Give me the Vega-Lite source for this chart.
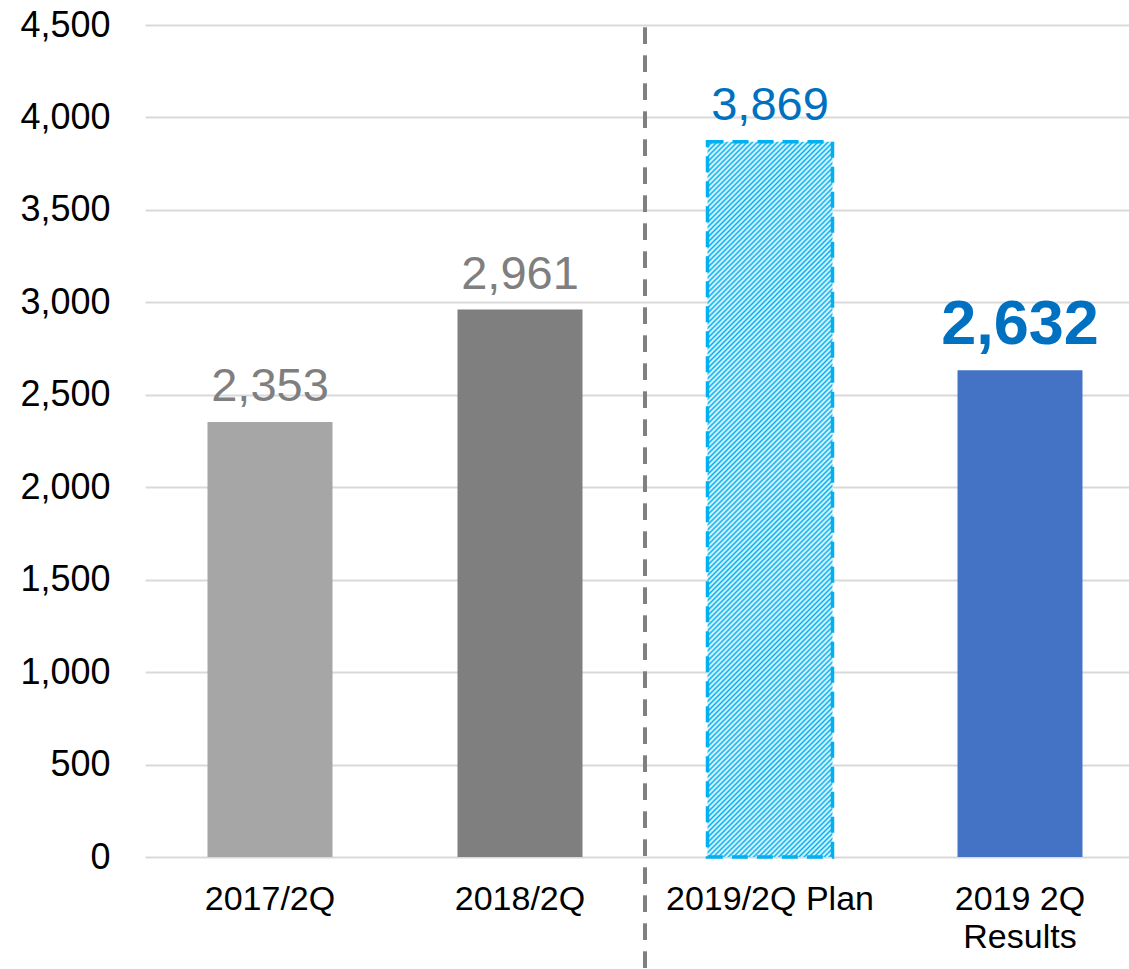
{
 "$schema": "https://vega.github.io/schema/vega-lite/v6.json",
 "width": 984,
 "height": 832,
 "autosize": {"type": "none"},
 "padding": {"left": 145, "top": 25, "right": 0, "bottom": 112},
 "background": "white",
 "config": {"view": {"stroke": null}, "font": "Liberation Sans"},
 "data": {"values": [
  {"period": "2017/2Q", "value": 2353},
  {"period": "2018/2Q", "value": 2961},
  {"period": "2019/2Q Plan", "value": 3869},
  {"period": "2019 2Q Results", "value": 2632}
 ]},
 "encoding": {
  "x": {"field": "period", "type": "nominal", "sort": null,
   "scale": {"domain": ["2017/2Q", "2018/2Q", "2019/2Q Plan", "2019 2Q Results"], "range": [0, 1000], "paddingInner": 0.5, "paddingOuter": 0.25},
   "axis": {"title": null, "labelAngle": 0, "labelFontSize": 34, "labelColor": "#000000", "labelFont": "Liberation Sans", "ticks": false, "tickSize": 0, "domain": false, "grid": false, "labelPadding": 25, "labelBaseline": "top", "labelLineHeight": 38, "labelLimit": 500,
    "labelExpr": "datum.value == '2019 2Q Results' ? ['2019 2Q', 'Results'] : datum.value"}},
  "y": {"field": "value", "type": "quantitative",
   "scale": {"domain": [0, 4500]},
   "axis": {"title": null, "values": [0, 500, 1000, 1500, 2000, 2500, 3000, 3500, 4000, 4500], "format": ",", "labelExpr": "format(datum.value, ',')", "labelFontSize": 36, "labelColor": "#000000", "labelFont": "Liberation Sans", "ticks": false, "tickSize": 0, "domain": false, "labelPadding": 35, "grid": true, "gridColor": "#D9D9D9", "gridWidth": 2}}
 },
 "layer": [
  {
   "transform": [{"filter": "datum.period != '2019/2Q Plan'"}],
   "mark": {"type": "bar"},
   "encoding": {"color": {"field": "period", "type": "nominal", "scale": {"domain": ["2017/2Q", "2018/2Q", "2019 2Q Results"], "range": ["#A6A6A6", "#7F7F7F", "#4472C4"]}, "legend": null}}
  },
  {
   "transform": [{"filter": "datum.period == '2019/2Q Plan'"}],
   "mark": {"type": "bar", "stroke": "#00B0F0", "strokeWidth": 3.5, "strokeDash": [16, 9],
    "fill": {"gradient": "linear", "x1": 0, "y1": 0, "x2": 0.1994, "y2": 1.1401, "stops": [
{"offset":0,"color":"#00b0f0"},{"offset":0.003,"color":"#fff"},{"offset":0.006,"color":"#00b0f0"},{"offset":0.009,"color":"#fff"},{"offset":0.012,"color":"#00b0f0"},{"offset":0.015,"color":"#fff"},{"offset":0.018,"color":"#00b0f0"},{"offset":0.021,"color":"#fff"},{"offset":0.024,"color":"#00b0f0"},{"offset":0.027,"color":"#fff"},
{"offset":0.03,"color":"#00b0f0"},{"offset":0.033,"color":"#fff"},{"offset":0.036,"color":"#00b0f0"},{"offset":0.039,"color":"#fff"},{"offset":0.042,"color":"#00b0f0"},{"offset":0.045,"color":"#fff"},{"offset":0.048,"color":"#00b0f0"},{"offset":0.051,"color":"#fff"},{"offset":0.054,"color":"#00b0f0"},{"offset":0.057,"color":"#fff"},
{"offset":0.06,"color":"#00b0f0"},{"offset":0.063,"color":"#fff"},{"offset":0.066,"color":"#00b0f0"},{"offset":0.069,"color":"#fff"},{"offset":0.072,"color":"#00b0f0"},{"offset":0.075,"color":"#fff"},{"offset":0.078,"color":"#00b0f0"},{"offset":0.081,"color":"#fff"},{"offset":0.084,"color":"#00b0f0"},{"offset":0.087,"color":"#fff"},
{"offset":0.09,"color":"#00b0f0"},{"offset":0.093,"color":"#fff"},{"offset":0.096,"color":"#00b0f0"},{"offset":0.099,"color":"#fff"},{"offset":0.102,"color":"#00b0f0"},{"offset":0.105,"color":"#fff"},{"offset":0.108,"color":"#00b0f0"},{"offset":0.111,"color":"#fff"},{"offset":0.114,"color":"#00b0f0"},{"offset":0.117,"color":"#fff"},
{"offset":0.12,"color":"#00b0f0"},{"offset":0.123,"color":"#fff"},{"offset":0.126,"color":"#00b0f0"},{"offset":0.129,"color":"#fff"},{"offset":0.132,"color":"#00b0f0"},{"offset":0.135,"color":"#fff"},{"offset":0.138,"color":"#00b0f0"},{"offset":0.141,"color":"#fff"},{"offset":0.144,"color":"#00b0f0"},{"offset":0.147,"color":"#fff"},
{"offset":0.15,"color":"#00b0f0"},{"offset":0.153,"color":"#fff"},{"offset":0.156,"color":"#00b0f0"},{"offset":0.159,"color":"#fff"},{"offset":0.162,"color":"#00b0f0"},{"offset":0.165,"color":"#fff"},{"offset":0.168,"color":"#00b0f0"},{"offset":0.171,"color":"#fff"},{"offset":0.174,"color":"#00b0f0"},{"offset":0.177,"color":"#fff"},
{"offset":0.18,"color":"#00b0f0"},{"offset":0.183,"color":"#fff"},{"offset":0.186,"color":"#00b0f0"},{"offset":0.189,"color":"#fff"},{"offset":0.192,"color":"#00b0f0"},{"offset":0.195,"color":"#fff"},{"offset":0.198,"color":"#00b0f0"},{"offset":0.201,"color":"#fff"},{"offset":0.204,"color":"#00b0f0"},{"offset":0.207,"color":"#fff"},
{"offset":0.21,"color":"#00b0f0"},{"offset":0.213,"color":"#fff"},{"offset":0.216,"color":"#00b0f0"},{"offset":0.219,"color":"#fff"},{"offset":0.222,"color":"#00b0f0"},{"offset":0.225,"color":"#fff"},{"offset":0.228,"color":"#00b0f0"},{"offset":0.231,"color":"#fff"},{"offset":0.234,"color":"#00b0f0"},{"offset":0.237,"color":"#fff"},
{"offset":0.24,"color":"#00b0f0"},{"offset":0.243,"color":"#fff"},{"offset":0.246,"color":"#00b0f0"},{"offset":0.249,"color":"#fff"},{"offset":0.252,"color":"#00b0f0"},{"offset":0.255,"color":"#fff"},{"offset":0.258,"color":"#00b0f0"},{"offset":0.261,"color":"#fff"},{"offset":0.264,"color":"#00b0f0"},{"offset":0.267,"color":"#fff"},
{"offset":0.27,"color":"#00b0f0"},{"offset":0.273,"color":"#fff"},{"offset":0.276,"color":"#00b0f0"},{"offset":0.279,"color":"#fff"},{"offset":0.282,"color":"#00b0f0"},{"offset":0.285,"color":"#fff"},{"offset":0.288,"color":"#00b0f0"},{"offset":0.291,"color":"#fff"},{"offset":0.294,"color":"#00b0f0"},{"offset":0.297,"color":"#fff"},
{"offset":0.3,"color":"#00b0f0"},{"offset":0.303,"color":"#fff"},{"offset":0.306,"color":"#00b0f0"},{"offset":0.309,"color":"#fff"},{"offset":0.312,"color":"#00b0f0"},{"offset":0.315,"color":"#fff"},{"offset":0.318,"color":"#00b0f0"},{"offset":0.321,"color":"#fff"},{"offset":0.324,"color":"#00b0f0"},{"offset":0.327,"color":"#fff"},
{"offset":0.33,"color":"#00b0f0"},{"offset":0.333,"color":"#fff"},{"offset":0.336,"color":"#00b0f0"},{"offset":0.339,"color":"#fff"},{"offset":0.342,"color":"#00b0f0"},{"offset":0.345,"color":"#fff"},{"offset":0.348,"color":"#00b0f0"},{"offset":0.351,"color":"#fff"},{"offset":0.354,"color":"#00b0f0"},{"offset":0.357,"color":"#fff"},
{"offset":0.36,"color":"#00b0f0"},{"offset":0.363,"color":"#fff"},{"offset":0.366,"color":"#00b0f0"},{"offset":0.369,"color":"#fff"},{"offset":0.372,"color":"#00b0f0"},{"offset":0.375,"color":"#fff"},{"offset":0.378,"color":"#00b0f0"},{"offset":0.381,"color":"#fff"},{"offset":0.384,"color":"#00b0f0"},{"offset":0.387,"color":"#fff"},
{"offset":0.39,"color":"#00b0f0"},{"offset":0.393,"color":"#fff"},{"offset":0.396,"color":"#00b0f0"},{"offset":0.399,"color":"#fff"},{"offset":0.402,"color":"#00b0f0"},{"offset":0.405,"color":"#fff"},{"offset":0.408,"color":"#00b0f0"},{"offset":0.411,"color":"#fff"},{"offset":0.414,"color":"#00b0f0"},{"offset":0.417,"color":"#fff"},
{"offset":0.42,"color":"#00b0f0"},{"offset":0.423,"color":"#fff"},{"offset":0.426,"color":"#00b0f0"},{"offset":0.429,"color":"#fff"},{"offset":0.432,"color":"#00b0f0"},{"offset":0.435,"color":"#fff"},{"offset":0.438,"color":"#00b0f0"},{"offset":0.441,"color":"#fff"},{"offset":0.444,"color":"#00b0f0"},{"offset":0.447,"color":"#fff"},
{"offset":0.45,"color":"#00b0f0"},{"offset":0.453,"color":"#fff"},{"offset":0.456,"color":"#00b0f0"},{"offset":0.459,"color":"#fff"},{"offset":0.462,"color":"#00b0f0"},{"offset":0.465,"color":"#fff"},{"offset":0.468,"color":"#00b0f0"},{"offset":0.471,"color":"#fff"},{"offset":0.474,"color":"#00b0f0"},{"offset":0.477,"color":"#fff"},
{"offset":0.48,"color":"#00b0f0"},{"offset":0.483,"color":"#fff"},{"offset":0.486,"color":"#00b0f0"},{"offset":0.489,"color":"#fff"},{"offset":0.492,"color":"#00b0f0"},{"offset":0.495,"color":"#fff"},{"offset":0.498,"color":"#00b0f0"},{"offset":0.501,"color":"#fff"},{"offset":0.504,"color":"#00b0f0"},{"offset":0.507,"color":"#fff"},
{"offset":0.51,"color":"#00b0f0"},{"offset":0.513,"color":"#fff"},{"offset":0.516,"color":"#00b0f0"},{"offset":0.519,"color":"#fff"},{"offset":0.522,"color":"#00b0f0"},{"offset":0.525,"color":"#fff"},{"offset":0.528,"color":"#00b0f0"},{"offset":0.531,"color":"#fff"},{"offset":0.534,"color":"#00b0f0"},{"offset":0.537,"color":"#fff"},
{"offset":0.54,"color":"#00b0f0"},{"offset":0.543,"color":"#fff"},{"offset":0.546,"color":"#00b0f0"},{"offset":0.549,"color":"#fff"},{"offset":0.552,"color":"#00b0f0"},{"offset":0.555,"color":"#fff"},{"offset":0.558,"color":"#00b0f0"},{"offset":0.561,"color":"#fff"},{"offset":0.564,"color":"#00b0f0"},{"offset":0.567,"color":"#fff"},
{"offset":0.57,"color":"#00b0f0"},{"offset":0.573,"color":"#fff"},{"offset":0.576,"color":"#00b0f0"},{"offset":0.579,"color":"#fff"},{"offset":0.582,"color":"#00b0f0"},{"offset":0.585,"color":"#fff"},{"offset":0.588,"color":"#00b0f0"},{"offset":0.591,"color":"#fff"},{"offset":0.594,"color":"#00b0f0"},{"offset":0.597,"color":"#fff"},
{"offset":0.6,"color":"#00b0f0"},{"offset":0.603,"color":"#fff"},{"offset":0.606,"color":"#00b0f0"},{"offset":0.609,"color":"#fff"},{"offset":0.612,"color":"#00b0f0"},{"offset":0.615,"color":"#fff"},{"offset":0.618,"color":"#00b0f0"},{"offset":0.621,"color":"#fff"},{"offset":0.624,"color":"#00b0f0"},{"offset":0.627,"color":"#fff"},
{"offset":0.63,"color":"#00b0f0"},{"offset":0.633,"color":"#fff"},{"offset":0.636,"color":"#00b0f0"},{"offset":0.639,"color":"#fff"},{"offset":0.642,"color":"#00b0f0"},{"offset":0.645,"color":"#fff"},{"offset":0.648,"color":"#00b0f0"},{"offset":0.651,"color":"#fff"},{"offset":0.654,"color":"#00b0f0"},{"offset":0.657,"color":"#fff"},
{"offset":0.66,"color":"#00b0f0"},{"offset":0.663,"color":"#fff"},{"offset":0.666,"color":"#00b0f0"},{"offset":0.669,"color":"#fff"},{"offset":0.672,"color":"#00b0f0"},{"offset":0.675,"color":"#fff"},{"offset":0.678,"color":"#00b0f0"},{"offset":0.681,"color":"#fff"},{"offset":0.684,"color":"#00b0f0"},{"offset":0.687,"color":"#fff"},
{"offset":0.69,"color":"#00b0f0"},{"offset":0.693,"color":"#fff"},{"offset":0.696,"color":"#00b0f0"},{"offset":0.699,"color":"#fff"},{"offset":0.702,"color":"#00b0f0"},{"offset":0.705,"color":"#fff"},{"offset":0.708,"color":"#00b0f0"},{"offset":0.711,"color":"#fff"},{"offset":0.714,"color":"#00b0f0"},{"offset":0.717,"color":"#fff"},
{"offset":0.72,"color":"#00b0f0"},{"offset":0.723,"color":"#fff"},{"offset":0.726,"color":"#00b0f0"},{"offset":0.729,"color":"#fff"},{"offset":0.732,"color":"#00b0f0"},{"offset":0.735,"color":"#fff"},{"offset":0.738,"color":"#00b0f0"},{"offset":0.741,"color":"#fff"},{"offset":0.744,"color":"#00b0f0"},{"offset":0.747,"color":"#fff"},
{"offset":0.75,"color":"#00b0f0"},{"offset":0.753,"color":"#fff"},{"offset":0.756,"color":"#00b0f0"},{"offset":0.759,"color":"#fff"},{"offset":0.762,"color":"#00b0f0"},{"offset":0.765,"color":"#fff"},{"offset":0.768,"color":"#00b0f0"},{"offset":0.771,"color":"#fff"},{"offset":0.774,"color":"#00b0f0"},{"offset":0.777,"color":"#fff"},
{"offset":0.78,"color":"#00b0f0"},{"offset":0.783,"color":"#fff"},{"offset":0.786,"color":"#00b0f0"},{"offset":0.789,"color":"#fff"},{"offset":0.792,"color":"#00b0f0"},{"offset":0.795,"color":"#fff"},{"offset":0.798,"color":"#00b0f0"},{"offset":0.801,"color":"#fff"},{"offset":0.804,"color":"#00b0f0"},{"offset":0.807,"color":"#fff"},
{"offset":0.81,"color":"#00b0f0"},{"offset":0.813,"color":"#fff"},{"offset":0.816,"color":"#00b0f0"},{"offset":0.819,"color":"#fff"},{"offset":0.822,"color":"#00b0f0"},{"offset":0.825,"color":"#fff"},{"offset":0.828,"color":"#00b0f0"},{"offset":0.831,"color":"#fff"},{"offset":0.834,"color":"#00b0f0"},{"offset":0.837,"color":"#fff"},
{"offset":0.84,"color":"#00b0f0"},{"offset":0.843,"color":"#fff"},{"offset":0.846,"color":"#00b0f0"},{"offset":0.849,"color":"#fff"},{"offset":0.852,"color":"#00b0f0"},{"offset":0.855,"color":"#fff"},{"offset":0.858,"color":"#00b0f0"},{"offset":0.861,"color":"#fff"},{"offset":0.864,"color":"#00b0f0"},{"offset":0.867,"color":"#fff"},
{"offset":0.87,"color":"#00b0f0"},{"offset":0.873,"color":"#fff"},{"offset":0.876,"color":"#00b0f0"},{"offset":0.879,"color":"#fff"},{"offset":0.882,"color":"#00b0f0"},{"offset":0.885,"color":"#fff"},{"offset":0.888,"color":"#00b0f0"},{"offset":0.891,"color":"#fff"},{"offset":0.894,"color":"#00b0f0"},{"offset":0.897,"color":"#fff"},
{"offset":0.9,"color":"#00b0f0"},{"offset":0.903,"color":"#fff"},{"offset":0.906,"color":"#00b0f0"},{"offset":0.909,"color":"#fff"},{"offset":0.912,"color":"#00b0f0"},{"offset":0.915,"color":"#fff"},{"offset":0.918,"color":"#00b0f0"},{"offset":0.921,"color":"#fff"},{"offset":0.924,"color":"#00b0f0"},{"offset":0.927,"color":"#fff"},
{"offset":0.93,"color":"#00b0f0"},{"offset":0.933,"color":"#fff"},{"offset":0.936,"color":"#00b0f0"},{"offset":0.939,"color":"#fff"},{"offset":0.942,"color":"#00b0f0"},{"offset":0.945,"color":"#fff"},{"offset":0.948,"color":"#00b0f0"},{"offset":0.951,"color":"#fff"},{"offset":0.954,"color":"#00b0f0"},{"offset":0.957,"color":"#fff"},
{"offset":0.96,"color":"#00b0f0"},{"offset":0.963,"color":"#fff"},{"offset":0.966,"color":"#00b0f0"},{"offset":0.969,"color":"#fff"},{"offset":0.972,"color":"#00b0f0"},{"offset":0.975,"color":"#fff"},{"offset":0.978,"color":"#00b0f0"},{"offset":0.981,"color":"#fff"},{"offset":0.984,"color":"#00b0f0"},{"offset":0.987,"color":"#fff"},
{"offset":0.99,"color":"#00b0f0"},{"offset":0.993,"color":"#fff"},{"offset":0.996,"color":"#00b0f0"},{"offset":0.999,"color":"#fff"}
    ]}}
  },
  {
   "transform": [{"filter": "datum.period == '2017/2Q' || datum.period == '2018/2Q'"}],
   "mark": {"type": "text", "fontSize": 47, "color": "#7F7F7F", "baseline": "alphabetic", "dy": -21, "font": "Liberation Sans"},
   "encoding": {"text": {"field": "value", "type": "quantitative", "format": ","}}
  },
  {
   "transform": [{"filter": "datum.period == '2019/2Q Plan'"}],
   "mark": {"type": "text", "fontSize": 47, "color": "#0070C0", "baseline": "alphabetic", "dy": -22, "font": "Liberation Sans"},
   "encoding": {"text": {"field": "value", "type": "quantitative", "format": ","}}
  },
  {
   "transform": [{"filter": "datum.period == '2019 2Q Results'"}],
   "mark": {"type": "text", "fontSize": 63, "fontWeight": "bold", "color": "#0070C0", "baseline": "alphabetic", "dy": -26, "font": "Liberation Sans"},
   "encoding": {"text": {"field": "value", "type": "quantitative", "format": ","}}
  },
  {
   "mark": {"type": "rule", "color": "#808080", "strokeWidth": 4, "strokeDash": [16, 12], "xOffset": -125},
   "encoding": {"x": {"datum": "2019/2Q Plan"},
    "y": {"datum": 4485, "type": "quantitative", "axis": {"title": null, "values": [0, 500, 1000, 1500, 2000, 2500, 3000, 3500, 4000, 4500], "format": ",", "labelExpr": "format(datum.value, ',')", "labelFontSize": 36, "labelColor": "#000000", "labelFont": "Liberation Sans", "ticks": false, "tickSize": 0, "domain": false, "labelPadding": 35, "grid": true, "gridColor": "#D9D9D9", "gridWidth": 2}},
    "y2": {"datum": -620}}
  }
 ]
}
